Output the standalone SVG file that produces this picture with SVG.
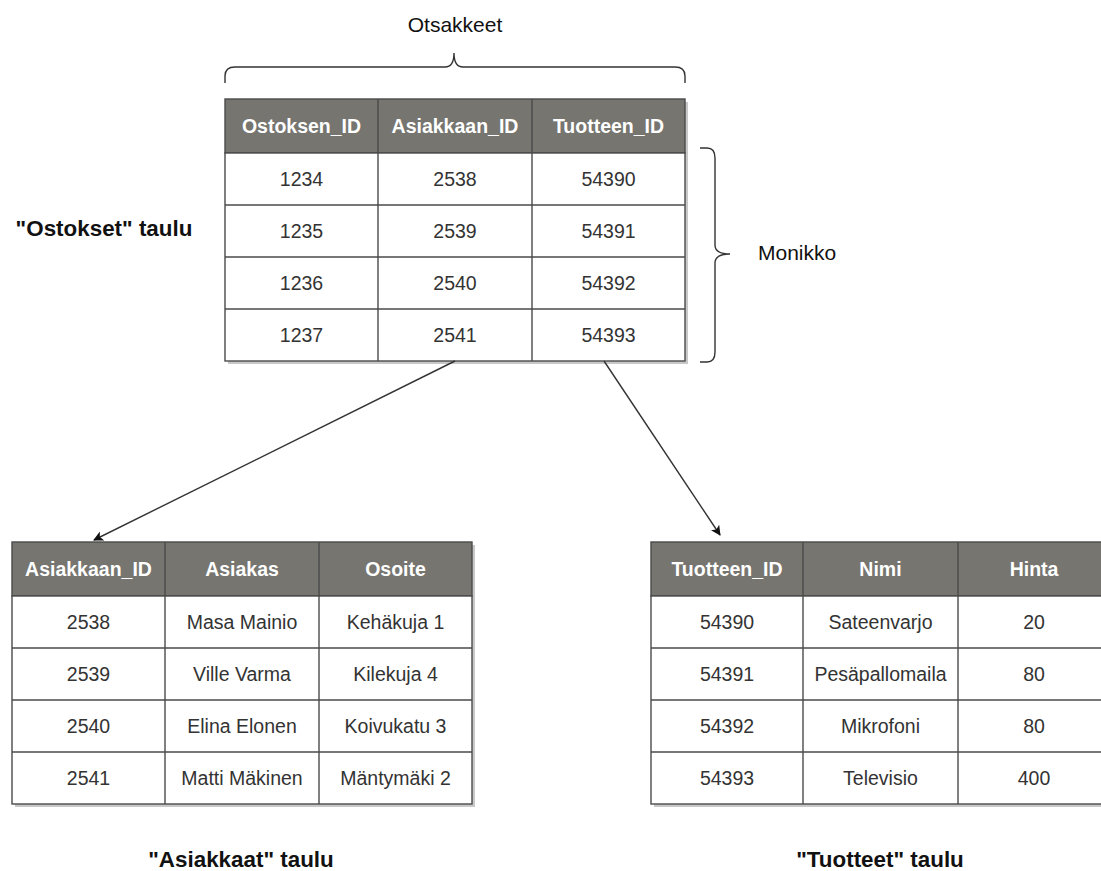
<svg xmlns="http://www.w3.org/2000/svg" width="1101" height="871" viewBox="0 0 1101 871">
<defs>
<style>
.hdr{fill:#767570;stroke:#4a4a4a;stroke-width:1.4}
.cell{fill:#ffffff;stroke:#4a4a4a;stroke-width:1.4}
.sh{fill:#c8c8c8}
.ht{font-family:"Liberation Sans",Arial,sans-serif;font-size:19.5px;font-weight:bold;fill:#ffffff;text-anchor:middle}
.ct{font-family:"Liberation Sans",Arial,sans-serif;font-size:19.5px;fill:#333333;text-anchor:middle}
.lbl{font-family:"Liberation Sans",Arial,sans-serif;font-size:22.4px;font-weight:bold;fill:#111111;text-anchor:middle}
.ann{font-family:"Liberation Sans",Arial,sans-serif;font-size:21px;fill:#111111}
.br{fill:none;stroke:#333333;stroke-width:1.4}
.con{fill:none;stroke:#333333;stroke-width:1.4}
</style>
<marker id="ah" viewBox="0 0 10 10" refX="9" refY="5" markerWidth="10" markerHeight="10" markerUnits="userSpaceOnUse" orient="auto">
<path d="M0,0 L10,5 L0,10 L2.5,5 Z" fill="#111111"/>
</marker>
</defs>
<rect width="1101" height="871" fill="#ffffff"/>

<g id="ostokset">
<rect class="sh" x="228" y="102" width="460" height="262"/>
<rect class="hdr" x="225" y="99" width="460" height="54"/>
<rect class="cell" x="225" y="153" width="460" height="208"/>
<g stroke="#4a4a4a" stroke-width="1.4">
<line x1="225" y1="205" x2="685" y2="205"/>
<line x1="225" y1="257" x2="685" y2="257"/>
<line x1="225" y1="309" x2="685" y2="309"/>
<line x1="378" y1="99" x2="378" y2="361"/>
<line x1="532" y1="99" x2="532" y2="361"/>
</g>
<text class="ht" x="301.5" y="133">Ostoksen_ID</text>
<text class="ht" x="455" y="133">Asiakkaan_ID</text>
<text class="ht" x="608.5" y="133">Tuotteen_ID</text>
<text class="ct" x="301.5" y="186">1234</text>
<text class="ct" x="455" y="186">2538</text>
<text class="ct" x="608.5" y="186">54390</text>
<text class="ct" x="301.5" y="238">1235</text>
<text class="ct" x="455" y="238">2539</text>
<text class="ct" x="608.5" y="238">54391</text>
<text class="ct" x="301.5" y="290">1236</text>
<text class="ct" x="455" y="290">2540</text>
<text class="ct" x="608.5" y="290">54392</text>
<text class="ct" x="301.5" y="342">1237</text>
<text class="ct" x="455" y="342">2541</text>
<text class="ct" x="608.5" y="342">54393</text>
</g>

<g id="asiakkaat">
<rect class="sh" x="15" y="545" width="460" height="262"/>
<rect class="hdr" x="12" y="542" width="460" height="54"/>
<rect class="cell" x="12" y="596" width="460" height="208"/>
<g stroke="#4a4a4a" stroke-width="1.4">
<line x1="12" y1="648" x2="472" y2="648"/>
<line x1="12" y1="700" x2="472" y2="700"/>
<line x1="12" y1="752" x2="472" y2="752"/>
<line x1="165" y1="542" x2="165" y2="804"/>
<line x1="319" y1="542" x2="319" y2="804"/>
</g>
<text class="ht" x="88.5" y="576">Asiakkaan_ID</text>
<text class="ht" x="242" y="576">Asiakas</text>
<text class="ht" x="395.5" y="576">Osoite</text>
<text class="ct" x="88.5" y="629">2538</text>
<text class="ct" x="242" y="629">Masa Mainio</text>
<text class="ct" x="395.5" y="629">Kehäkuja 1</text>
<text class="ct" x="88.5" y="681">2539</text>
<text class="ct" x="242" y="681">Ville Varma</text>
<text class="ct" x="395.5" y="681">Kilekuja 4</text>
<text class="ct" x="88.5" y="733">2540</text>
<text class="ct" x="242" y="733">Elina Elonen</text>
<text class="ct" x="395.5" y="733">Koivukatu 3</text>
<text class="ct" x="88.5" y="785">2541</text>
<text class="ct" x="242" y="785">Matti Mäkinen</text>
<text class="ct" x="395.5" y="785">Mäntymäki 2</text>
</g>

<g id="tuotteet">
<rect class="sh" x="654" y="545" width="460" height="262"/>
<rect class="hdr" x="651" y="542" width="460" height="54"/>
<rect class="cell" x="651" y="596" width="460" height="208"/>
<g stroke="#4a4a4a" stroke-width="1.4">
<line x1="651" y1="648" x2="1111" y2="648"/>
<line x1="651" y1="700" x2="1111" y2="700"/>
<line x1="651" y1="752" x2="1111" y2="752"/>
<line x1="803" y1="542" x2="803" y2="804"/>
<line x1="958" y1="542" x2="958" y2="804"/>
</g>
<text class="ht" x="727" y="576">Tuotteen_ID</text>
<text class="ht" x="880.5" y="576">Nimi</text>
<text class="ht" x="1034" y="576">Hinta</text>
<text class="ct" x="727" y="629">54390</text>
<text class="ct" x="880.5" y="629">Sateenvarjo</text>
<text class="ct" x="1034" y="629">20</text>
<text class="ct" x="727" y="681">54391</text>
<text class="ct" x="880.5" y="681">Pesäpallomaila</text>
<text class="ct" x="1034" y="681">80</text>
<text class="ct" x="727" y="733">54392</text>
<text class="ct" x="880.5" y="733">Mikrofoni</text>
<text class="ct" x="1034" y="733">80</text>
<text class="ct" x="727" y="785">54393</text>
<text class="ct" x="880.5" y="785">Televisio</text>
<text class="ct" x="1034" y="785">400</text>
</g>

<g id="otsakkeet">
<path class="br" d="M225,83 L225,76 Q225,67 235,67 L445,67 Q454,67 454,53 Q454,67 463,67 L675,67 Q685,67 685,76 L685,83"/>
<text class="ann" x="455" y="32" text-anchor="middle">Otsakkeet</text>
</g>

<g id="monikko">
<path class="br" d="M700,148 L707,148 Q715,148 715,158 L715,245 Q715,254 730,254 Q715,254 715,263 L715,352 Q715,362 707,362 L700,362"/>
<text class="ann" x="758" y="260">Monikko</text>
</g>

<g id="labels">
<text class="lbl" x="104" y="236">"Ostokset" taulu</text>
<text class="lbl" x="241" y="867">"Asiakkaat" taulu</text>
<text class="lbl" x="880" y="867">"Tuotteet" taulu</text>
</g>

<g id="connectors">
<line class="con" x1="455" y1="361" x2="94" y2="540" marker-end="url(#ah)"/>
<line class="con" x1="604" y1="361" x2="720" y2="535" marker-end="url(#ah)"/>
</g>
</svg>
